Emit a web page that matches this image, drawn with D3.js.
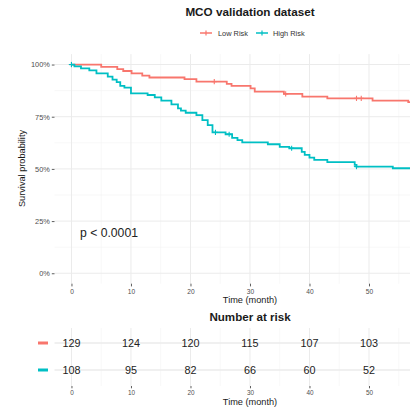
<!DOCTYPE html>
<html>
<head>
<meta charset="utf-8">
<script src="https://cdn.jsdelivr.net/npm/d3@7"></script>
<style>
  html, body { margin: 0; padding: 0; background: #fff; }
  svg { display: block; font-family: "Liberation Sans", Arial, Helvetica, sans-serif; }
</style>
</head>
<body>
<svg id="chart" width="410" height="413"></svg>
<script>
// Kaplan-Meier step data (time in months, survival probability)
const groups = ["Low Risk", "High Risk"];
const groupColors = ["#F8766D", "#00BFC4"];

const lowTimes = [0, 5.0, 7.7, 8.7, 10.1, 11.9, 13.1, 19.0, 21.0, 26.1, 26.9, 30.1, 30.8, 35.7, 38.8, 43.0, 50.6, 56.6];
const lowSurv  = [1.0, 0.989, 0.978, 0.969, 0.958, 0.947, 0.938, 0.930, 0.918, 0.907, 0.898, 0.886, 0.870, 0.859, 0.846, 0.838, 0.827, 0.820];
const lowEnd = 60;
const lowCensor = [0, 24.0, 36.0, 47.9, 48.7];

const highTimes = [0, 0.5, 1.6, 3.0, 4.2, 6.1, 6.9, 7.6, 8.2, 8.9, 10.0, 12.8, 14.0, 15.1, 16.8, 17.9, 18.4, 19.2, 21.0, 22.0, 22.9, 23.7, 25.9, 27.0, 27.9, 28.7, 33.0, 35.0, 36.6, 38.7, 39.2, 40.0, 40.8, 43.0, 47.6, 47.9, 54.0];
const highSurv  = [1.0, 0.991, 0.982, 0.972, 0.958, 0.942, 0.928, 0.916, 0.898, 0.889, 0.862, 0.854, 0.843, 0.827, 0.809, 0.790, 0.779, 0.769, 0.758, 0.734, 0.710, 0.675, 0.666, 0.649, 0.638, 0.627, 0.618, 0.606, 0.599, 0.582, 0.567, 0.554, 0.543, 0.532, 0.519, 0.511, 0.503];
const highEnd = 60;
const highCensor = [0, 24.2, 26.5, 37.0, 47.9];

// Risk table
const riskTimes = [0, 10, 20, 30, 40, 50];
const riskLow   = [129, 124, 120, 115, 107, 103];
const riskHigh  = [108, 95, 82, 66, 60, 52];

const xTicks = [0, 10, 20, 30, 40, 50];
const yTicks = [0, 0.25, 0.5, 0.75, 1.0];
const yTickLabels = ["0%", "25%", "50%", "75%", "100%"];

const svg = d3.select("#chart");
svg.append("rect").attr("width", 410).attr("height", 413).attr("fill", "#fff");

const x = d3.scaleLinear().domain([-2.85, 59.85]).range([54.5, 427.6]);
const y = d3.scaleLinear().domain([-0.05, 1.05]).range([283.7, 54.1]);

const gridMajor = "#EBEBEB", gridMinor = "#F3F3F3";
const tickColor = "#333", labelColor = "#4D4D4D";

// Title and legend
svg.append("text").attr("x", 250).attr("y", 15.5).attr("text-anchor", "middle")
  .attr("font-size", 11.7).attr("font-weight", "bold").attr("fill", "#1a1a1a")
  .text("MCO validation dataset");

const legendItems = [{x: 200, lx: 218}, {x: 256, lx: 273}];
groups.forEach((g, i) => {
  const it = legendItems[i];
  const lg = svg.append("g");
  lg.append("line").attr("x1", it.x).attr("x2", it.x + 12).attr("y1", 33).attr("y2", 33)
    .attr("stroke", groupColors[i]).attr("stroke-width", 1.5);
  lg.append("line").attr("x1", it.x + 6).attr("x2", it.x + 6).attr("y1", 30.5).attr("y2", 35.5)
    .attr("stroke", groupColors[i]).attr("stroke-width", 1.2);
  lg.append("text").attr("x", it.lx).attr("y", 35.6).attr("font-size", 7.4).attr("fill", "#333").text(g);
});

// Main panel grid
const main = svg.append("g");
const [py0, py1] = y.range();
const minorX = d3.range(5, 60, 10);
const minorY = [0.125, 0.375, 0.625, 0.875];
main.selectAll(".gxm").data(minorX).join("line")
  .attr("x1", d => x(d)).attr("x2", d => x(d)).attr("y1", py0).attr("y2", py1)
  .attr("stroke", gridMinor).attr("stroke-width", 0.6);
main.selectAll(".gym").data(minorY).join("line")
  .attr("x1", x.range()[0]).attr("x2", 410).attr("y1", d => y(d)).attr("y2", d => y(d))
  .attr("stroke", gridMinor).attr("stroke-width", 0.6);
main.selectAll(".gx").data(xTicks.concat([60])).join("line")
  .attr("x1", d => x(d)).attr("x2", d => x(d)).attr("y1", py0).attr("y2", py1)
  .attr("stroke", gridMajor).attr("stroke-width", 1);
main.selectAll(".gy").data(yTicks).join("line")
  .attr("x1", x.range()[0]).attr("x2", 410).attr("y1", d => y(d)).attr("y2", d => y(d))
  .attr("stroke", gridMajor).attr("stroke-width", 1);

// Axes
const yAxis = d3.axisLeft(y).tickValues(yTicks).tickFormat((d, i) => yTickLabels[i]).tickSize(2.7).tickPadding(2);
const yg = svg.append("g").attr("transform", `translate(${x.range()[0]},0)`).call(yAxis);
yg.select(".domain").remove();
yg.selectAll("line").attr("stroke", tickColor).attr("stroke-width", 0.8);
yg.selectAll("text").attr("font-size", 7.4).attr("fill", labelColor).attr("font-family", null);

const xAxis = d3.axisBottom(x).tickValues(xTicks).tickSize(2.7).tickPadding(2.5);
const xg = svg.append("g").attr("transform", `translate(0,${py0})`).call(xAxis);
xg.select(".domain").remove();
xg.selectAll("line").attr("stroke", tickColor).attr("stroke-width", 0.8);
xg.selectAll("text").attr("font-size", 6.6).attr("fill", labelColor).attr("font-family", null);

svg.append("text").attr("x", 250).attr("y", 302.5).attr("text-anchor", "middle")
  .attr("font-size", 9.2).attr("fill", "#1a1a1a").text("Time (month)");
svg.append("text").attr("transform", "translate(25,168.5) rotate(-90)").attr("text-anchor", "middle")
  .attr("font-size", 9.2).attr("fill", "#1a1a1a").text("Survival probability");

// Survival curves
const stepLine = d3.line().x(d => x(d[0])).y(d => y(d[1])).curve(d3.curveStepAfter);
const series = [
  {times: lowTimes, surv: lowSurv, end: lowEnd, censor: lowCensor, color: groupColors[0]},
  {times: highTimes, surv: highSurv, end: highEnd, censor: highCensor, color: groupColors[1]}
];
function survAt(s, t) {
  let v = s.surv[0];
  s.times.forEach((tt, i) => { if (tt <= t) v = s.surv[i]; });
  return v;
}
series.forEach(s => {
  const pts = s.times.map((t, i) => [t, s.surv[i]]);
  pts.push([s.end, s.surv[s.surv.length - 1]]);
  main.append("path").datum(pts).attr("d", stepLine)
    .attr("fill", "none").attr("stroke", s.color).attr("stroke-width", 1.8);
  s.censor.forEach(t => {
    const cx = x(t), cy = y(survAt(s, t));
    main.append("line").attr("x1", cx).attr("x2", cx).attr("y1", cy - 2.6).attr("y2", cy + 2.6)
      .attr("stroke", s.color).attr("stroke-width", 1.1);
    main.append("line").attr("x1", cx - 2.6).attr("x2", cx + 2.6).attr("y1", cy).attr("y2", cy)
      .attr("stroke", s.color).attr("stroke-width", 1.1);
  });
});

svg.append("text").attr("x", 80).attr("y", 236.5).attr("font-size", 12.2).attr("fill", "#222")
  .text("p < 0.0001");

// Risk table
svg.append("text").attr("x", 250).attr("y", 321).attr("text-anchor", "middle")
  .attr("font-size", 11.6).attr("font-weight", "bold").attr("fill", "#1a1a1a").text("Number at risk");

const ty = d3.scalePoint().domain(groups).range([343, 370]);
const tTop = 328, tBot = 386;
const table = svg.append("g");
table.selectAll(".tgm").data(minorX).join("line")
  .attr("x1", d => x(d)).attr("x2", d => x(d)).attr("y1", tTop).attr("y2", tBot)
  .attr("stroke", gridMinor).attr("stroke-width", 0.6);
table.selectAll(".tg").data(xTicks.concat([60])).join("line")
  .attr("x1", d => x(d)).attr("x2", d => x(d)).attr("y1", tTop).attr("y2", tBot)
  .attr("stroke", gridMajor).attr("stroke-width", 1);
table.selectAll(".th").data(groups).join("line")
  .attr("x1", x.range()[0]).attr("x2", 410).attr("y1", d => ty(d)).attr("y2", d => ty(d))
  .attr("stroke", gridMajor).attr("stroke-width", 1.4);

[riskLow, riskHigh].forEach((vals, gi) => {
  table.selectAll(".n" + gi).data(vals).join("text")
    .attr("x", (d, i) => x(riskTimes[i])).attr("y", ty(groups[gi]) + 3.9)
    .attr("text-anchor", "middle").attr("font-size", 10.8).attr("fill", "#222")
    .text(d => d);
  table.append("line").attr("x1", 38).attr("x2", 48).attr("y1", ty(groups[gi])).attr("y2", ty(groups[gi]))
    .attr("stroke", groupColors[gi]).attr("stroke-width", 3);
});

const txg = svg.append("g").attr("transform", `translate(0,${tBot})`).call(d3.axisBottom(x).tickValues(xTicks).tickSize(2.3).tickPadding(2.5));
txg.select(".domain").remove();
txg.selectAll("line").attr("stroke", tickColor).attr("stroke-width", 0.8);
txg.selectAll("text").attr("font-size", 6.4).attr("fill", labelColor).attr("font-family", null);

svg.append("text").attr("x", 250).attr("y", 405).attr("text-anchor", "middle")
  .attr("font-size", 9.2).attr("fill", "#1a1a1a").text("Time (month)");
</script>
</body>
</html>
